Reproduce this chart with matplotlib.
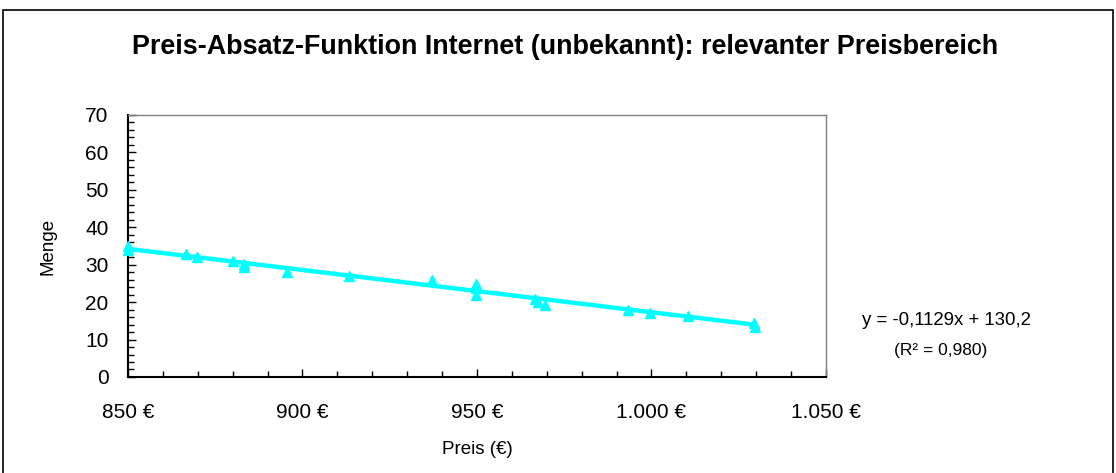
import matplotlib
matplotlib.use("Agg")
import matplotlib.pyplot as plt
from matplotlib.ticker import MultipleLocator, FuncFormatter
from matplotlib.patches import Rectangle
import numpy as np

plt.rcParams["font.family"] = ["Liberation Sans", "DejaVu Sans"]

# observed prices (EUR) and quantities
preis = [850, 850, 866.6, 869.8, 880.1, 883.2, 883.2, 895.6, 913.2, 937.1,
         949.6, 949.6, 949.6, 966.5, 967.4, 969.6, 993.4, 999.6, 1010.6,
         1029.4, 1029.8]
menge = [35.0, 34.0, 32.8, 32.1, 31.0, 30.2, 29.4, 28.0, 27.0, 25.8,
         24.8, 23.8, 22.0, 20.9, 20.0, 19.2, 18.0, 17.2, 16.2,
         14.5, 13.3]

# linear trend as shown in the equation
slope = -0.1129
intercept = 130.2
r2 = 0.980

fig = plt.figure(figsize=(11.16, 4.73), dpi=100)
ax = fig.add_axes([0.1147, 0.2030, 0.6254, 0.5539])

xfit = np.array([min(preis), max(preis)])
ax.plot(xfit, slope * xfit + intercept, color="#00FFFF", lw=3.2,
        solid_capstyle="butt", zorder=2)
ax.plot(preis, menge, ls="none", marker="^", ms=7.5, color="#00FFFF",
        clip_on=False, zorder=3)

ax.set_xlim(850, 1050)
ax.set_ylim(0, 70)
ax.xaxis.set_major_locator(MultipleLocator(50))
ax.xaxis.set_minor_locator(MultipleLocator(10))
ax.yaxis.set_major_locator(MultipleLocator(10))
ax.yaxis.set_minor_locator(MultipleLocator(2))


def euro(v, pos):
    s = f"{int(round(v)):,}".replace(",", ".")
    return f"{s} €"


ax.xaxis.set_major_formatter(FuncFormatter(euro))
ax.tick_params(axis="both", which="major", direction="in", length=6,
               width=1, labelsize=15, colors="black")
ax.tick_params(axis="both", which="minor", direction="in", length=4,
               width=1)
ax.tick_params(axis="x", which="major", pad=19)
ax.tick_params(axis="y", which="major", pad=14)

for side in ["left", "bottom"]:
    ax.spines[side].set_linewidth(1.5)
    ax.spines[side].set_color("black")
for side in ["top", "right"]:
    ax.spines[side].set_linewidth(1)
    ax.spines[side].set_color("#808080")

ax.set_xlabel("Preis (€)", fontsize=13.5)
ax.set_ylabel("Menge", fontsize=13.5)
ax.xaxis.set_label_coords(0.5, -0.243)
ax.yaxis.set_label_coords(-0.103, 0.5)

fig.text(0.506, 0.901,
         "Preis-Absatz-Funktion Internet (unbekannt): relevanter Preisbereich",
         ha="center", va="center", fontsize=19.4, fontweight="bold")

fig.text(0.848, 0.3215, f"y = {slope:.4f}x + {intercept:.1f}".replace(".", ","),
         ha="center", va="center", fontsize=13.4)
fig.text(0.843, 0.258, f"(R² = {r2:.3f})".replace(".", ","),
         ha="center", va="center", fontsize=12.5)

# outer chart frame
fig.patches.append(Rectangle((3 / 1116, -0.05), 1110 / 1116, 1 - 10 / 473 + 0.05,
                             transform=fig.transFigure, fill=False,
                             edgecolor="black", lw=1.2))

fig.savefig("out.png", dpi=100)
